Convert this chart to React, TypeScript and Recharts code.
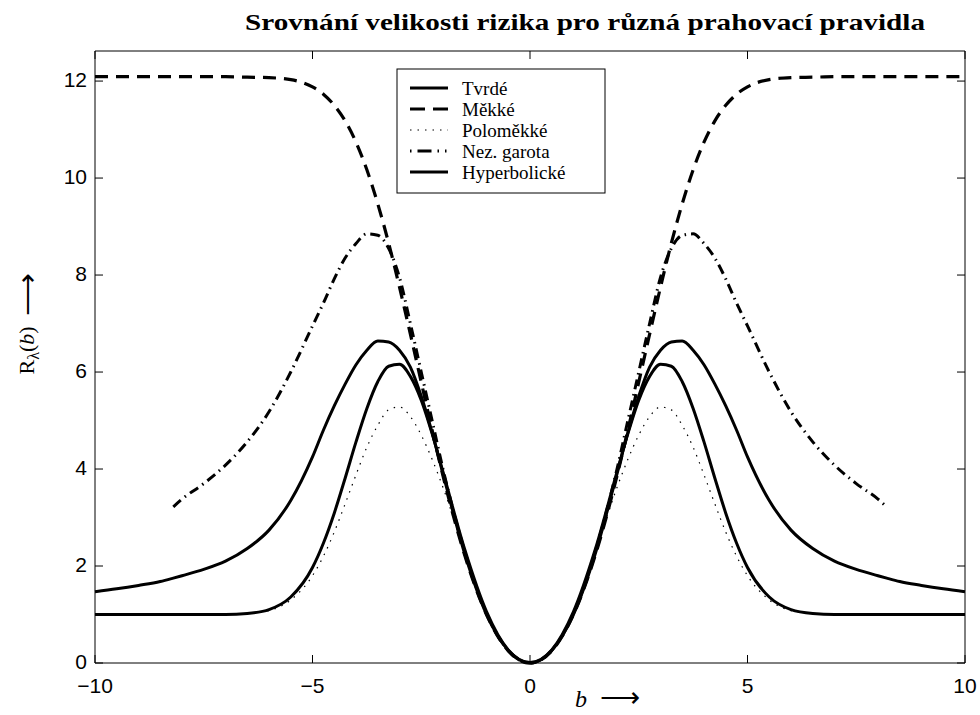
import { LineChart, Line, XAxis, YAxis } from "recharts";

// b values (x axis)
const bValues = [
  -10, -9.5, -9, -8.5, -8.2, -8, -7.5, -7, -6.5, -6, -5.5, -5, -4.75, -4.5, -4.25, -4, -3.75, -3.5, -3.25, -3,
  -2.75, -2.5, -2.25, -2, -1.5, -1, -0.5, 0, 0.5, 1, 1.5, 2, 2.25, 2.5, 2.75, 3, 3.25, 3.5, 3.75, 4, 4.25, 4.5,
  4.75, 5, 5.5, 6, 6.5, 7, 7.5, 8, 8.2, 8.5, 9, 9.5, 10,
];

// risk values, one per b value
const tvrde = [
  1, 1, 1, 1, 1, 1, 1, 1, 1.02, 1.1, 1.36, 1.97, 2.47, 3.09, 3.81, 4.56, 5.25, 5.8, 6.12, 6.16,
  5.91, 5.42, 4.73, 3.94, 2.34, 1.06, 0.27, 0.01, 0.27, 1.06, 2.34, 3.94, 4.73, 5.42, 5.91, 6.16, 6.12, 5.8, 5.25, 4.56, 3.81, 3.09,
  2.47, 1.97, 1.36, 1.1, 1.02, 1, 1, 1, 1, 1, 1, 1, 1,
];
const mekke = [
  12.09, 12.09, 12.09, 12.09, 12.09, 12.09, 12.09, 12.09, 12.08, 12.07, 12.03, 11.88, 11.73, 11.5, 11.18, 10.74, 10.17, 9.47, 8.66, 7.75,
  6.78, 5.79, 4.8, 3.86, 2.22, 1.0, 0.25, 0, 0.25, 1.0, 2.22, 3.86, 4.8, 5.79, 6.78, 7.75, 8.66, 9.47, 10.17, 10.74, 11.18, 11.5,
  11.73, 11.88, 12.03, 12.07, 12.08, 12.09, 12.09, 12.09, 12.09, 12.09, 12.09, 12.09, 12.09,
];
const polomekke = [
  1, 1, 1, 1, 1, 1, 1, 1, 1.02, 1.08, 1.3, 1.8, 2.2, 2.7, 3.28, 3.88, 4.45, 4.9, 5.22, 5.28,
  5.08, 4.7, 4.2, 3.62, 2.28, 1.02, 0.26, 0, 0.26, 1.02, 2.28, 3.62, 4.2, 4.7, 5.08, 5.28, 5.22, 4.9, 4.45, 3.88, 3.28, 2.7,
  2.2, 1.8, 1.3, 1.08, 1.02, 1, 1, 1, 1, 1, 1, 1, 1,
];
const garota = [
  null, null, null, null, 3.22, 3.38, 3.7, 4.08, 4.56, 5.18, 6.0, 6.95, 7.42, 7.92, 8.35, 8.65, 8.85, 8.82, 8.55, 7.95,
  7.0, 6.0, 5.0, 4.0, 2.3, 1.02, 0.26, 0, 0.26, 1.02, 2.3, 4.0, 5.0, 6.0, 7.0, 7.95, 8.55, 8.82, 8.85, 8.65, 8.35, 7.92,
  7.42, 6.95, 6.0, 5.18, 4.56, 4.08, 3.7, 3.38, 3.22, null, null, null, null,
];
const hyperbolicke = [
  1.47, 1.53, 1.6, 1.68, 1.75, 1.8, 1.93, 2.1, 2.36, 2.74, 3.35, 4.25, 4.8, 5.3, 5.75, 6.15, 6.45, 6.64, 6.62, 6.45,
  6.1, 5.5, 4.75, 3.9, 2.25, 1.0, 0.26, 0, 0.26, 1.0, 2.25, 3.9, 4.75, 5.5, 6.1, 6.45, 6.62, 6.64, 6.45, 6.15, 5.75, 5.3,
  4.8, 4.25, 3.35, 2.74, 2.36, 2.1, 1.93, 1.8, 1.75, 1.68, 1.6, 1.53, 1.47,
];

const xTicks = [-10, -5, 0, 5, 10];
const yTicks = [0, 2, 4, 6, 8, 10, 12];

const data = bValues.map((b, i) => ({
  b,
  tvrde: tvrde[i],
  mekke: mekke[i],
  polomekke: polomekke[i],
  garota: garota[i],
  hyperbolicke: hyperbolicke[i],
}));

const series = [
  { key: "tvrde", name: "Tvrdé", width: 3, dash: undefined, legendDash: undefined },
  { key: "mekke", name: "Měkké", width: 3.2, dash: "13 8", legendDash: "15 8" },
  { key: "polomekke", name: "Poloměkké", width: 1.2, dash: "1.5 6", legendDash: "1.5 6" },
  { key: "garota", name: "Nez. garota", width: 3, dash: "10 5 1.5 5", legendDash: "1.5 6 14 6 1.5 6 1.5" },
  { key: "hyperbolicke", name: "Hyperbolické", width: 3, dash: undefined, legendDash: undefined },
];

const sans = "'Liberation Sans', Arial, sans-serif";
const serif = "'Liberation Serif', 'Times New Roman', serif";
const fmt = (v: number) => String(v).replace("-", "\u2212");

const LeftTick = ({ x, y, payload }: any) => (
  <g>
    <line x1={x} y1={y} x2={x + 8} y2={y} stroke="#000" />
    <text x={x - 8} y={y - 2} textAnchor="end" dominantBaseline="central" fontSize={21} fontFamily={sans} fill="#000">
      {payload.value}
    </text>
  </g>
);
const RightTick = ({ x, y }: any) => <line x1={x} y1={y} x2={x - 8} y2={y} stroke="#000" />;
const BottomTick = ({ x, y, payload }: any) => (
  <g>
    <line x1={x} y1={y} x2={x} y2={y - 8} stroke="#000" />
    <text x={x} y={y + 22} textAnchor="middle" dominantBaseline="central" fontSize={21} fontFamily={sans} fill="#000">
      {fmt(payload.value)}
    </text>
  </g>
);
const TopTick = ({ x, y }: any) => <line x1={x} y1={y} x2={x} y2={y + 8} stroke="#000" />;

export default function App() {
  return (
    <div style={{ position: "absolute", left: 0, top: 0, width: 980, height: 715, background: "#fff" }}>
      <LineChart width={980} height={715} data={data} margin={{ top: 50, right: 14, bottom: 51, left: 94 }}>
        <XAxis
          dataKey="b"
          type="number"
          domain={[-10, 10]}
          ticks={xTicks}
          height={1}
          tickSize={0}
          tickMargin={0}
          tick={<BottomTick />}
          axisLine={{ stroke: "#000" }}
        />
        <XAxis
          xAxisId="top"
          dataKey="b"
          orientation="top"
          type="number"
          domain={[-10, 10]}
          ticks={xTicks}
          height={1}
          tickSize={0}
          tickMargin={0}
          tick={<TopTick />}
          axisLine={{ stroke: "#000" }}
        />
        <YAxis
          type="number"
          domain={[0, 12.62]}
          ticks={yTicks}
          width={1}
          tickSize={0}
          tickMargin={0}
          tick={<LeftTick />}
          axisLine={{ stroke: "#000" }}
        />
        <YAxis
          yAxisId="right"
          orientation="right"
          type="number"
          domain={[0, 12.62]}
          ticks={yTicks}
          width={1}
          tickSize={0}
          tickMargin={0}
          tick={<RightTick />}
          axisLine={{ stroke: "#000" }}
        />
        {/* invisible series so the top and right frame axes are drawn */}
        <Line
          xAxisId="top"
          yAxisId="right"
          dataKey="tvrde"
          stroke="none"
          dot={false}
          activeDot={false}
          legendType="none"
          isAnimationActive={false}
        />
        {series.map((s) => (
          <Line
            key={s.key}
            dataKey={s.key}
            name={s.name}
            type="monotone"
            stroke="#000"
            strokeWidth={s.width}
            strokeDasharray={s.dash}
            dot={false}
            activeDot={false}
            connectNulls={false}
            isAnimationActive={false}
          />
        ))}
      </LineChart>
      <svg
        width={980}
        height={715}
        style={{ position: "absolute", left: 0, top: 0, pointerEvents: "none" }}
      >
        <text
          x={585}
          y={30}
          textAnchor="middle"
          fontFamily={serif}
          fontWeight="bold"
          fontSize={23}
          textLength={680}
          lengthAdjust="spacingAndGlyphs"
        >
          Srovnání velikosti rizika pro různá prahovací pravidla
        </text>
        <text transform="translate(34,324) rotate(-90)" textAnchor="middle" fontFamily={serif} fontSize={22}>
          R<tspan fontSize={16} dy={5}>λ</tspan>
          <tspan dy={-5}>(</tspan>
          <tspan fontStyle="italic">b</tspan>)<tspan dx={10} fontSize={30} dy={3}>⟶</tspan>
        </text>
        <text x={575} y={707} fontFamily={serif} fontSize={24}>
          <tspan fontStyle="italic">b</tspan>
          <tspan dx={13} fontSize={28}>⟶</tspan>
        </text>
        <rect x={397} y={69} width={208} height={124} fill="#fff" stroke="#000" />
        {series.map((s, i) => {
          const y = 88 + i * 21;
          return (
            <g key={s.key}>
              <line x1={410} x2={448} y1={y} y2={y} stroke="#000" strokeWidth={s.width} strokeDasharray={s.legendDash} />
              <text x={462} y={y} dominantBaseline="central" fontFamily={serif} fontSize={19}>
                {s.name}
              </text>
            </g>
          );
        })}
      </svg>
    </div>
  );
}
